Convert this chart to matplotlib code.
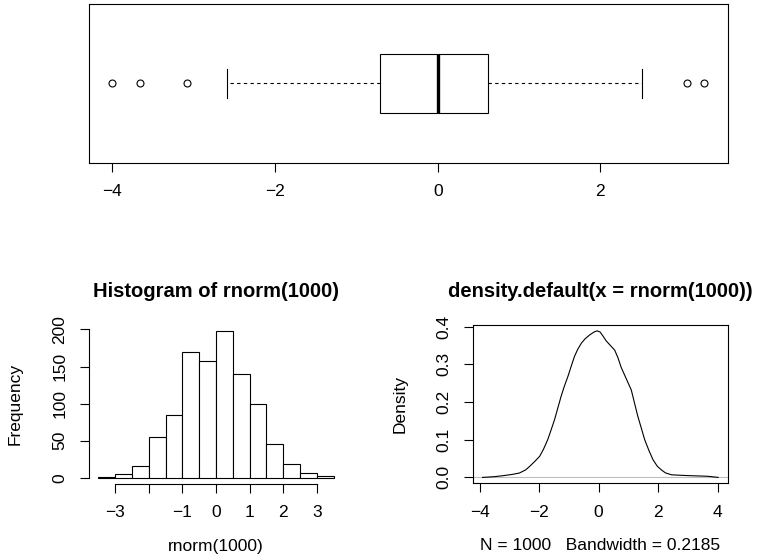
import numpy as np
import matplotlib
matplotlib.use("Agg")
import matplotlib.pyplot as plt

plt.rcParams['font.family'] = ['Liberation Sans', 'DejaVu Sans']

# boxplot of rnorm(1000)
box_q1, box_med, box_q3 = -0.709, 0.007, 0.615
box_whislo, box_whishi = -2.586, 2.515
box_fliers = [-4.0, -3.656, -3.078, 3.068, 3.274]
box_ticks = [-4, -2, 0, 2]

# histogram of rnorm(1000)
hist_edges = [-3.5, -3.0, -2.5, -2.0, -1.5, -1.0, -0.5, 0.0, 0.5, 1.0, 1.5, 2.0, 2.5, 3.0, 3.5]
hist_counts = [1, 5, 16, 55, 84, 170, 157, 198, 140, 100, 46, 19, 6, 3]
hist_xticks = [-3, -2, -1, 0, 1, 2, 3]
hist_xlabels = ['\u22123', '', '\u22121', '0', '1', '2', '3']
hist_yticks = [0, 50, 100, 150, 200]

# density estimate
dens_x = [-3.90, -3.50, -3.22, -2.90, -2.66, -2.45, -2.32, -2.15, -1.98, -1.85,
          -1.71, -1.60, -1.48, -1.37, -1.26, -1.15, -1.03, -0.92, -0.81, -0.70,
          -0.58, -0.45, -0.30, -0.15, -0.05, 0.05, 0.15, 0.26, 0.40, 0.54,
          0.65, 0.76, 0.93, 1.10, 1.20, 1.32, 1.44, 1.55, 1.70, 1.83,
          1.97, 2.11, 2.25, 2.45, 2.80, 3.12, 3.40, 3.68, 4.02]
dens_y = [0.000, 0.002, 0.0045, 0.008, 0.0117, 0.020, 0.029, 0.042, 0.056, 0.075,
          0.100, 0.125, 0.153, 0.184, 0.215, 0.242, 0.268, 0.295, 0.321, 0.340,
          0.356, 0.368, 0.378, 0.386, 0.389, 0.386, 0.375, 0.362, 0.350, 0.338,
          0.318, 0.292, 0.262, 0.232, 0.200, 0.162, 0.130, 0.100, 0.070, 0.047,
          0.030, 0.020, 0.012, 0.007, 0.0055, 0.0045, 0.0038, 0.003, 0.000]
dens_xticks = [-4, -2, 0, 2, 4]
dens_xlabels = ['\u22124', '\u22122', '0', '2', '4']
dens_yticks = [0.0, 0.1, 0.2, 0.3, 0.4]

W, H = 765, 556
LBL = 12.5
TTL = 14.5
LW = 0.8


def rect(l, t, r, b):
    return [l / W, 1 - b / H, (r - l) / W, (b - t) / H]


def style(ax):
    ax.tick_params(direction='out', length=6.5, width=LW, labelsize=LBL, pad=9)
    for sp in ax.spines.values():
        sp.set_linewidth(LW)


fig = plt.figure(figsize=(W / 100, H / 100), dpi=100)

# top: horizontal boxplot
ax1 = fig.add_axes(rect(88.7, 4, 727.7, 162.7))
stats = [dict(med=box_med, q1=box_q1, q3=box_q3, whislo=box_whislo,
              whishi=box_whishi, fliers=box_fliers)]
ax1.bxp(stats, positions=[1], widths=0.4, vert=False, patch_artist=True,
        boxprops=dict(facecolor='white', edgecolor='black', linewidth=LW),
        medianprops=dict(color='black', linewidth=2.4),
        whiskerprops=dict(color='black', linewidth=LW, linestyle=(0, (3, 3))),
        capprops=dict(color='black', linewidth=LW),
        flierprops=dict(marker='o', markersize=5, markerfacecolor='none',
                        markeredgecolor='black', markeredgewidth=LW))
ax1.set_xlim(-4.29, 3.565)
ax1.set_ylim(0.46, 1.54)
ax1.set_xticks(box_ticks)
ax1.set_xticklabels(['\u22124', '\u22122', '0', '2'])
ax1.set_yticks([])
style(ax1)

# bottom left: histogram
ax2 = fig.add_axes(rect(89, 325, 343, 483.7))
ax2.bar(hist_edges[:-1], hist_counts, width=np.diff(hist_edges), align='edge',
        facecolor='white', edgecolor='black', linewidth=LW)
ax2.set_xlim(-3.78, 3.78)
ax2.set_ylim(-7.92, 205.92)
ax2.set_xticks(hist_xticks)
ax2.set_xticklabels(hist_xlabels)
ax2.set_yticks(hist_yticks)
ax2.spines['top'].set_visible(False)
ax2.spines['right'].set_visible(False)
ax2.spines['bottom'].set_bounds(-3, 3)
ax2.spines['left'].set_bounds(0, 200)
style(ax2)
ax2.tick_params(axis='y', labelrotation=90)
for t in ax2.get_yticklabels():
    t.set_va('center')
ax2.text(0.5, 1.178, 'Histogram of rnorm(1000)', transform=ax2.transAxes,
         ha='center', va='baseline', fontsize=TTL, fontweight='bold')
ax2.set_xlabel('rnorm(1000)', fontsize=LBL, va='baseline')
ax2.xaxis.set_label_coords(0.5, -0.421)
ax2.set_ylabel('Frequency', fontsize=LBL, va='center')
ax2.yaxis.set_label_coords(-0.290, 0.5)

# bottom right: density
ax3 = fig.add_axes(rect(473, 325, 727.7, 483.3))
ax3.axhline(0, color='#bebebe', linewidth=LW)
ax3.plot(dens_x, dens_y, color='black', linewidth=LW)
ax3.set_xlim(-4.22, 4.34)
ax3.set_ylim(-0.0156, 0.4045)
ax3.set_xticks(dens_xticks)
ax3.set_xticklabels(dens_xlabels)
ax3.set_yticks(dens_yticks)
ax3.set_yticklabels(['0.0', '0.1', '0.2', '0.3', '0.4'])
style(ax3)
ax3.tick_params(axis='y', labelrotation=90)
for t in ax3.get_yticklabels():
    t.set_va('center')
ax3.text(0.5, 1.178, 'density.default(x = rnorm(1000))', transform=ax3.transAxes,
         ha='center', va='baseline', fontsize=TTL, fontweight='bold')
ax3.set_xlabel('N = 1000   Bandwidth = 0.2185', fontsize=LBL, va='baseline')
ax3.xaxis.set_label_coords(0.5, -0.421)
ax3.set_ylabel('Density', fontsize=LBL, va='center')
ax3.yaxis.set_label_coords(-0.287, 0.5)

fig.savefig('out.png', dpi=100)
